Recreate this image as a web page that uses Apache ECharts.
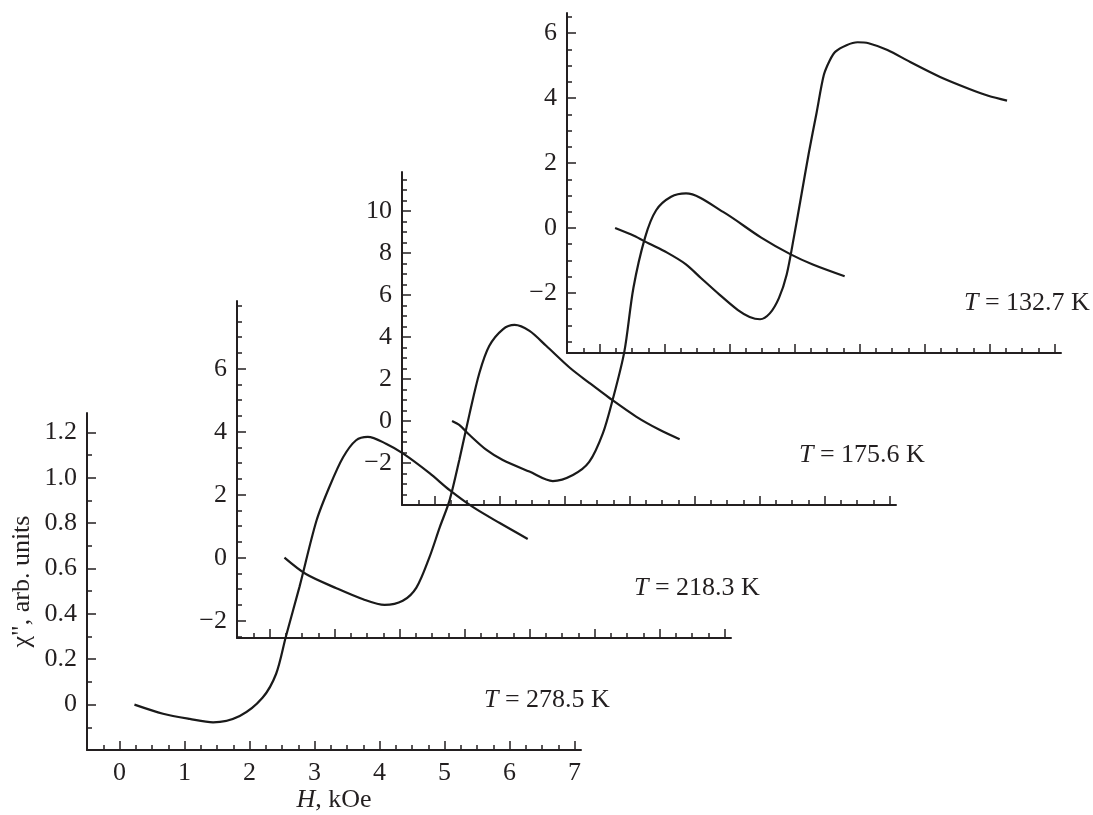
<!DOCTYPE html>
<html><head><meta charset="utf-8">
<script src="https://cdn.jsdelivr.net/npm/echarts@6/dist/echarts.min.js"></script>
<style>html,body{margin:0;padding:0;background:#fff}#c{width:1093px;height:815px}</style>
</head><body><div id="c"></div>
<script>
// ---- data ----
const temperatures = ['278.5', '218.3', '175.6', '132.7'];

// chi'' vs H (kOe), each in its own panel's units
const curve278 = [[0.23,0.00],[0.67,-0.04],[1.08,-0.063],[1.44,-0.078],[1.85,-0.05],[2.2,0.03],[2.41,0.136],[2.56,0.30],[2.77,0.52],[3.03,0.81],[3.23,0.96],[3.44,1.09],[3.64,1.165],[3.82,1.18],[4.1,1.15],[4.36,1.107],[4.77,1.02],[5.08,0.945],[5.44,0.87],[5.85,0.80],[6.28,0.73]];
const curve218 = [[0.23,0.0],[0.56,-0.52],[1.03,-0.97],[1.44,-1.32],[1.77,-1.50],[2.05,-1.37],[2.26,-0.95],[2.46,0.01],[2.62,0.97],[2.77,1.82],[2.92,3.10],[3.08,4.59],[3.23,5.87],[3.38,6.72],[3.59,7.25],[3.77,7.39],[4.0,7.2],[4.26,6.72],[4.62,6.03],[4.92,5.55],[5.23,5.07],[5.64,4.48],[6.0,4.06],[6.31,3.76]];
const curve175 = [[0.27,0.0],[0.38,-0.19],[0.54,-0.67],[0.80,-1.38],[1.05,-1.86],[1.46,-2.41],[1.82,-2.86],[2.13,-2.57],[2.38,-1.95],[2.59,-0.59],[2.74,1.0],[2.92,3.29],[3.06,6.33],[3.24,8.74],[3.41,10.03],[3.64,10.67],[3.87,10.83],[4.44,9.95],[5.02,8.74],[5.48,7.93],[5.82,7.45],[6.31,6.89]];
const curve132 = [[0.24,0.0],[0.53,-0.24],[0.76,-0.48],[1.04,-0.76],[1.33,-1.12],[1.56,-1.54],[1.85,-2.06],[2.13,-2.53],[2.31,-2.74],[2.47,-2.81],[2.62,-2.63],[2.76,-2.16],[2.88,-1.43],[2.99,-0.29],[3.11,1.06],[3.22,2.31],[3.34,3.55],[3.45,4.70],[3.54,5.15],[3.63,5.43],[3.80,5.63],[3.97,5.72],[4.14,5.69],[4.43,5.48],[4.78,5.11],[5.24,4.65],[5.69,4.28],[5.98,4.07],[6.27,3.92]];

// ticks
const xMajor = [0,1,2,3,4,5,6,7];
const xMinor = [-0.25,0.25,0.5,0.75,1.25,1.5,1.75,2.25,2.5,2.75,3.25,3.5,3.75,4.25,4.5,4.75,5.25,5.5,5.75,6.25,6.5,6.75];
const y278Major = [0,0.2,0.4,0.6,0.8,1.0,1.2];
const y278Minor = [-0.1,0.1,0.3,0.5,0.7,0.9,1.1];
const y218Major = [-2,0,2,4,6];
const y218Minor = [-2.5,-1.5,-1,-0.5,0.5,1,1.5,2.5,3,3.5,4.5,5,5.5,6.5,7,7.5,8];
const y175Major = [-2,0,2,4,6,8,10];
const y175Minor = [-3.5,-3,-2.5,-1.5,-1,-0.5,0.5,1,1.5,2.5,3,3.5,4.5,5,5.5,6.5,7,7.5,8.5,9,9.5,10.5,11,11.5];
const y132Major = [-2,0,2,4,6];
const y132Minor = [-3.5,-3,-2.5,-1.5,-1,-0.5,0.5,1,1.5,2.5,3,3.5,4.5,5,5.5,6.5];

// ---- layout ----
const FONT = 'Liberation Serif';
const FS = 26;
const INK = '#231f20';
const panels = [
  {left: 87,  top: 413, height: 337, ymin: -0.2,  ymax: 1.285, data: curve278, yMajor: y278Major, yMinor: y278Minor},
  {left: 237, top: 301, height: 337, ymin: -2.55, ymax: 8.15,  data: curve218, yMajor: y218Major, yMinor: y218Minor},
  {left: 402, top: 172, height: 333, ymin: -4,    ymax: 11.85, data: curve175, yMajor: y175Major, yMinor: y175Minor},
  {left: 567, top: 13,  height: 340, ymin: -3.85, ymax: 6.62,  data: curve132, yMajor: y132Major, yMinor: y132Minor}
];
const W = 494;

function fmtY(i){
  return function(v){
    if (i === 0) return v === 0 ? '0' : v.toFixed(1);
    return v < 0 ? '\u2212' + Math.abs(v) : String(v);
  };
}

const grid = [], xAxis = [], yAxis = [], series = [], graphic = [];
panels.forEach((p, i) => {
  grid.push({left: p.left, top: p.top, width: W, height: p.height});
  xAxis.push({
    type: 'value', gridIndex: i, min: -0.5, max: 7.1, position: 'bottom',
    axisLine: {show: true, onZero: false, lineStyle: {color: INK, width: 2}},
    axisTick: {show: true, inside: true, length: 9, customValues: xMajor, lineStyle: {color: INK, width: 1.5}},
    axisLabel: {show: i === 0, customValues: xMajor, margin: 10, fontSize: FS, fontFamily: FONT, color: INK},
    splitLine: {show: false},
    name: i === 0 ? '{it|H}, kOe' : '', nameLocation: 'middle', nameGap: 34,
    nameTextStyle: {fontSize: FS, fontFamily: FONT, color: INK, rich: {it: {fontStyle: 'italic', fontSize: FS, fontFamily: FONT, color: INK}}}
  });
  xAxis.push({
    type: 'value', gridIndex: i, min: -0.5, max: 7.1, position: 'bottom',
    axisLine: {show: false, onZero: false},
    axisTick: {show: true, inside: true, length: 5, customValues: xMinor, lineStyle: {color: INK, width: 1.5}},
    axisLabel: {show: false}, splitLine: {show: false}
  });
  yAxis.push({
    type: 'value', gridIndex: i, min: p.ymin, max: p.ymax, position: 'left',
    axisLine: {show: true, onZero: false, lineStyle: {color: INK, width: 2}},
    axisTick: {show: true, inside: true, length: 9, customValues: p.yMajor, lineStyle: {color: INK, width: 1.5}},
    axisLabel: {show: true, customValues: p.yMajor, margin: 10, fontSize: FS, fontFamily: FONT, color: INK, formatter: fmtY(i)},
    splitLine: {show: false},
    name: i === 0 ? 'χ", arb. units' : '', nameLocation: 'middle', nameGap: 52, nameRotate: 90,
    nameTextStyle: {fontSize: FS, fontFamily: FONT, color: INK}
  });
  yAxis.push({
    type: 'value', gridIndex: i, min: p.ymin, max: p.ymax, position: 'left',
    axisLine: {show: false, onZero: false},
    axisTick: {show: true, inside: true, length: 5, customValues: p.yMinor, lineStyle: {color: INK, width: 1.5}},
    axisLabel: {show: false}, splitLine: {show: false}
  });
  series.push({
    type: 'line', xAxisIndex: 2 * i, yAxisIndex: 2 * i, data: p.data,
    symbol: 'none', showSymbol: false, smooth: 0.3, clip: false, silent: true,
    lineStyle: {color: '#1a1a1a', width: 2.2}
  });
  graphic.push({
    type: 'text', x: p.left + 397, y: p.top + p.height - 50,
    style: {
      text: '{it|T} = ' + temperatures[i] + ' K',
      fontFamily: FONT, fontSize: FS, fill: INK, verticalAlign: 'middle',
      rich: {it: {fontStyle: 'italic', fontFamily: FONT, fontSize: FS, fill: INK, color: INK}}
    }
  });
});

const chart = echarts.init(document.getElementById('c'), null, {renderer: 'canvas'});
chart.setOption({
  animation: false,
  backgroundColor: '#fff',
  grid, xAxis, yAxis, series, graphic
});
</script></body></html>
